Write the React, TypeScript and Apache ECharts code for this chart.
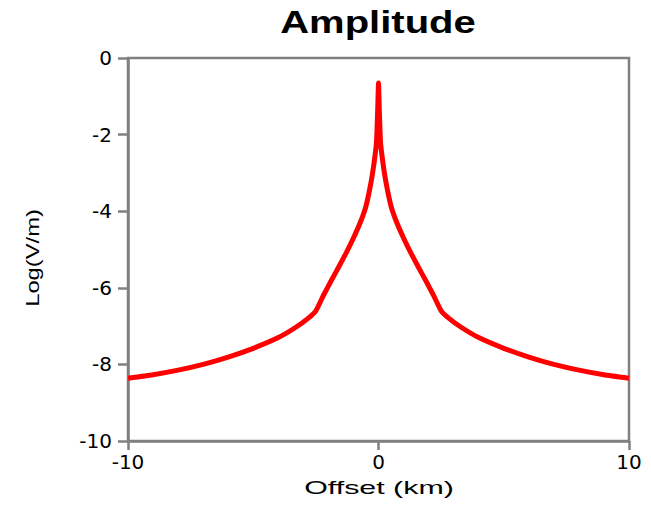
import React, { useEffect, useRef } from "react";
import * as echarts from "echarts";

const offsetKm = [
  -10, -9, -8, -7, -6, -5, -4, -3.3, -2.8, -2.5, -2.2, -1.9, -1.6, -1.3, -1.0, -0.7, -0.5, -0.3, -0.18, -0.08, -0.03, 0,
  0.03, 0.08, 0.18, 0.3, 0.5, 0.7, 1.0, 1.3, 1.6, 1.9, 2.2, 2.5, 2.8, 3.3, 4, 5, 6, 7, 8, 9, 10,
];
const logAmplitude = [
  -8.36, -8.27, -8.15, -8.0, -7.81, -7.58, -7.3, -7.03, -6.79, -6.6, -6.2, -5.83, -5.47, -5.1, -4.7, -4.25, -3.87, -3.25, -2.75, -2.2, -1.3, -0.65,
  -1.3, -2.2, -2.75, -3.25, -3.87, -4.25, -4.7, -5.1, -5.47, -5.83, -6.2, -6.6, -6.79, -7.03, -7.3, -7.58, -7.81, -8.0, -8.15, -8.27, -8.36,
];
const titleText = "Amplitude";
const xName = "Offset (km)";
const yName = "Log(V/m)";

export default function App() {
  const ref = useRef<HTMLDivElement>(null);
  useEffect(() => {
    if (!ref.current) return;
    const chart = echarts.init(ref.current, null, { renderer: "svg" });
    const axisColor = "#808080";
    const font = "Liberation Sans";
    chart.setOption({
      animation: false,
      backgroundColor: "#ffffff",
      grid: {
        left: 128,
        right: 22,
        top: 58,
        bottom: 66,
        show: true,
        borderColor: axisColor,
        borderWidth: 2.5,
        containLabel: false,
      },
      xAxis: {
        type: "value",
        min: -10,
        max: 10,
        interval: 10,
        splitLine: { show: false },
        axisLine: { show: true, onZero: false, lineStyle: { color: axisColor, width: 2.5 } },
        axisTick: { show: true, inside: false, length: 9, lineStyle: { color: axisColor, width: 2.5 } },
        axisLabel: { color: "#000", fontFamily: "DejaVu Sans", fontSize: 20, margin: 11 },
      },
      yAxis: {
        type: "value",
        min: -10,
        max: 0,
        interval: 2,
        splitLine: { show: false },
        axisLine: { show: true, onZero: false, lineStyle: { color: axisColor, width: 2.5 } },
        axisTick: { show: true, inside: false, length: 10, lineStyle: { color: axisColor, width: 2.5 } },
        axisLabel: { color: "#000", fontFamily: "DejaVu Sans", fontSize: 20, margin: 16 },
      },
      graphic: [
        {
          type: "text",
          x: 378,
          y: 22,
          scaleX: 1.25,
          style: {
            text: titleText,
            align: "center",
            verticalAlign: "middle",
            font: `bold 32px "${font}"`,
            fill: "#000",
          },
        },
        {
          type: "text",
          x: 379,
          y: 487,
          scaleX: 1.6,
          style: {
            text: xName,
            align: "center",
            verticalAlign: "middle",
            font: `19px "${font}"`,
            fill: "#000",
          },
        },
        {
          type: "text",
          x: 33,
          y: 258,
          rotation: Math.PI / 2,
          scaleX: 1.32,
          style: {
            text: yName,
            align: "center",
            verticalAlign: "middle",
            font: `18px "${font}"`,
            fill: "#000",
          },
        },
      ],
      series: [
        {
          type: "line",
          data: offsetKm.map((x, i) => [x, logAmplitude[i]]),
          showSymbol: false,
          smooth: 0.15,
          lineStyle: { color: "#ff0000", width: 5 },
          z: 3,
        },
      ],
    });
    return () => chart.dispose();
  }, []);
  return <div ref={ref} style={{ width: 651, height: 507, position: "absolute", left: 0, top: 0 }} />;
}
